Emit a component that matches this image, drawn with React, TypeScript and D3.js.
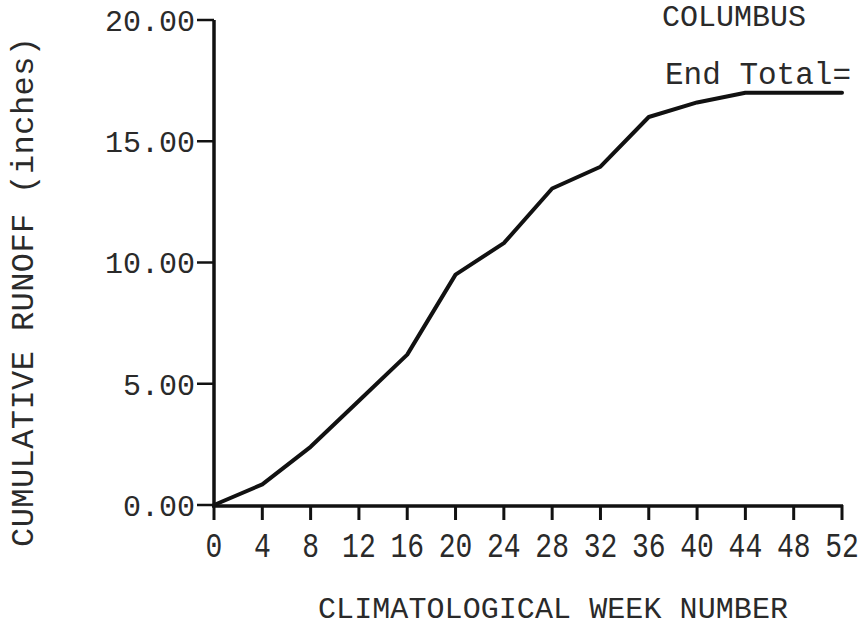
import * as d3 from 'd3';
import React from 'react';

// cumulative runoff, every 4 weeks
const weeks = [0, 4, 8, 12, 16, 20, 24, 28, 32, 36, 40, 44, 48, 52];
const runoff = [0, 0.85, 2.4, 4.3, 6.2, 9.5, 10.8, 13.05, 13.95, 16.0, 16.6, 17.0, 17.0, 17.0];

const yTicks = [0, 5, 10, 15, 20];
const xTicks = [0, 4, 8, 12, 16, 20, 24, 28, 32, 36, 40, 44, 48, 52];

const stationName = 'COLUMBUS';
const endLabel = 'End Total=';
const xTitle = 'CLIMATOLOGICAL WEEK NUMBER';
const yTitle = 'CUMULATIVE RUNOFF (inches)';

const W = 860;
const H = 628;
const font = '"Liberation Mono", "DejaVu Sans Mono", monospace';
const ink = '#111';
const typeInk = '#2a2a2a';

function App() {
    const x = d3.scaleLinear().domain([0, 52]).range([214, 842]);
    const y = d3.scaleLinear().domain([0, 20]).range([505, 20]);

    const line = d3.line<number>()
        .x((d, i) => x(weeks[i]))
        .y(d => y(d));

    return (
        <svg width={W} height={H}
             style={{ position: 'absolute', left: 0, top: 0, background: '#fff' }}>

            {/* y axis */}
            <line x1={x(0)} x2={x(0)} y1={y(20)} y2={y(0) + 2}
                  stroke={ink} strokeWidth={3.5} />
            {yTicks.map(t => (
                <g key={'y' + t}>
                    <line x1={x(0) - 17} x2={x(0)} y1={y(t)} y2={y(t)}
                          stroke={ink} strokeWidth={2.5} />
                    <text x={195} y={y(t)} dy="0.36em" textAnchor="end"
                          fontFamily={font} fontSize={30} fill={typeInk}>
                        {t.toFixed(2)}
                    </text>
                </g>
            ))}

            {/* x axis */}
            <line x1={x(0) - 2} x2={x(52) + 1} y1={y(0) + 1} y2={y(0) + 1}
                  stroke={ink} strokeWidth={3.5} />
            {xTicks.map(t => (
                <g key={'x' + t}>
                    <line x1={x(t)} x2={x(t)} y1={y(0)} y2={y(0) + 15}
                          stroke={ink} strokeWidth={3} />
                    <text transform={`translate(${x(t)},557) scale(0.8,1)`}
                          textAnchor="middle" fontFamily={font} fontSize={35}
                          fill={typeInk}>
                        {t}
                    </text>
                </g>
            ))}

            {/* runoff curve */}
            <path d={line(runoff) || ''} fill="none" stroke={ink}
                  strokeWidth={4} strokeLinejoin="round" strokeLinecap="round" />

            <text x={662} y={26} fontFamily={font} fontSize={30} fill={typeInk}>
                {stationName}
            </text>
            <text x={665} y={84} fontFamily={font} fontSize={31} fill={typeInk}>
                {endLabel}
            </text>

            <text x={318} y={618} textLength={470} fontFamily={font}
                  fontSize={30} fill={typeInk}>
                {xTitle}
            </text>
            <text transform="translate(33,292) rotate(-90)" textAnchor="middle"
                  textLength={510} fontFamily={font} fontSize={32} fill={typeInk}>
                {yTitle}
            </text>
        </svg>
    );
}

export default App;
